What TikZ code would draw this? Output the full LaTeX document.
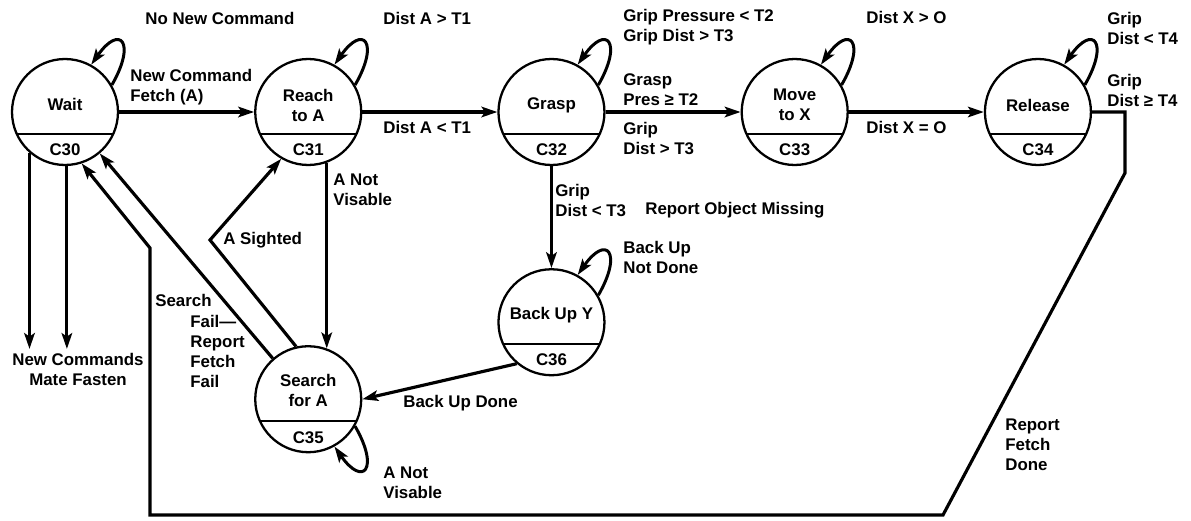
\documentclass[tikz,border=0pt]{standalone}
\usepackage{fontspec}
\setmainfont{Liberation Sans}
\usetikzlibrary{arrows.meta,calc,positioning}

\begin{document}
\begin{tikzpicture}[x=0.02cm, y=0.02cm,
  every node/.style={font=\bfseries\fontsize{9.6}{11.4}\selectfont, inner sep=0pt},
  state/.style={circle, draw=black, line width=1.3pt, minimum size=2.12cm,
    path picture={\draw[line width=1pt] ([yshift=-0.44cm]path picture bounding box.west) -- ([yshift=-0.44cm]path picture bounding box.east);}},
  lbl/.style={anchor=west, align=left},
  trans/.style={line width=1.8pt, -{Stealth[length=9pt, width=6pt, inset=2pt]}},
  selfloop/.style={line width=1.7pt, -{Stealth[length=9pt, width=6pt, inset=2pt]}}]
  \useasboundingbox (0,0) rectangle (1191,-521);

  \node[state] (Wait) at (65,-112) {};
  \node[state, right=2.7cm of Wait] (Reach) {};
  \node[state, right=2.7cm of Reach] (Grasp) {};
  \node[state, right=2.7cm of Grasp] (Move) {};
  \node[state, right=2.7cm of Move] (Release) {};
  \node[state, below=2.04cm of Grasp] (BackUp) {};
  \node[state, below=3.58cm of Reach] (Search) {};

  % state names and codes
  \node (WaitN) at ([yshift=0.16cm]Wait.center) {Wait};
  \node (WaitC) at ([yshift=-0.76cm]Wait.center) {C30};
  \node[align=center] (ReachN) at ([yshift=0.14cm]Reach.center) {Reach\\to A};
  \node (ReachC) at ([yshift=-0.76cm]Reach.center) {C31};
  \node (GraspN) at ([yshift=0.14cm]Grasp.center) {Grasp};
  \node (GraspC) at ([yshift=-0.76cm]Grasp.center) {C32};
  \node[align=center] (MoveN) at ([yshift=0.14cm]Move.center) {Move\\to X};
  \node (MoveC) at ([yshift=-0.76cm]Move.center) {C33};
  \node (ReleaseN) at ([yshift=0.14cm]Release.center) {Release};
  \node (ReleaseC) at ([yshift=-0.76cm]Release.center) {C34};
  \node (BackUpN) at ([yshift=0.14cm]BackUp.center) {Back Up Y};
  \node (BackUpC) at ([yshift=-0.74cm]BackUp.center) {C36};
  \node[align=center] (SearchN) at ([yshift=0.18cm]Search.center) {Search\\for A};
  \node (SearchC) at ([yshift=-0.76cm]Search.center) {C35};

  \path[trans]
  (Wait) edge (Reach)
  (Reach) edge (Grasp)
  (Grasp) edge (Move)
  (Move) edge (Release)
  (Grasp) edge (BackUp)
  (Reach.290) edge (Search.70)
  (BackUp.230) edge (Search.east)
  (Search.131) edge (Wait.310);

  \coordinate (Sighted) at (210,-240);
  \draw[trans] (Search.103) -- (Sighted) -- (Reach.240);

  \coordinate (RetA) at (1125,-173);
  \coordinate (RetB) at (943,-515);
  \coordinate (RetC) at (150,-248);
  \draw[trans] (Release.east) -| (RetA) -- (RetB) -| (RetC) -- (Wait.288);

  \node[align=center, inner sep=2pt] (NewCmds) at (78,-369) {New Commands\\Mate Fasten};
  \draw[trans] (Wait.229) -- (Wait.229 |- NewCmds.north);
  \draw[trans] (Wait.272) -- (Wait.272 |- NewCmds.north);

  \path[selfloop]
  (Wait.30) edge[out=60, in=55, looseness=4.4] (Wait.61)
  (Reach.30) edge[out=60, in=55, looseness=4.4] (Reach.61)
  (Grasp.30) edge[out=60, in=55, looseness=4.4] (Grasp.61)
  (Move.30) edge[out=60, in=55, looseness=4.4] (Move.61)
  (Release.30) edge[out=60, in=55, looseness=4.4] (Release.61)
  (BackUp.30) edge[out=60, in=55, looseness=4.4] (BackUp.61)
  (Search.330) edge[out=-60, in=-55, looseness=4.4] (Search.299);

  % transition labels
  \node[lbl] (LNoNew) at (145,-18) {No New Command};
  \node[lbl] (LFetch) at (130,-87) {New Command\\Fetch (A)};
  \node[lbl] (LFarA) at (383,-18) {Dist A > T1};
  \node[lbl] (LNearA) at (383,-127) {Dist A < T1};
  \node[lbl] (LGripHold) at (623,-27) {Grip Pressure < T2\\Grip Dist > T3};
  \node[lbl] (LGrasped) at (623,-90) {Grasp\\Pres ≥ T2};
  \node[lbl] (LGripFar) at (623,-138) {Grip\\Dist > T3};
  \node[lbl] (LFarX) at (866,-17) {Dist X > O};
  \node[lbl] (LAtX) at (866,-127) {Dist X = O};
  \node[lbl] (LHold) at (1107,-28) {Grip\\Dist < T4};
  \node[lbl] (LLet) at (1107,-90) {Grip\\Dist ≥ T4};
  \node[lbl] (LGripNear) at (555,-200) {Grip\\Dist < T3};
  \node[lbl] (LMissing) at (645,-210) {Report Object Missing};
  \node[lbl] (LBackMore) at (623,-257) {Back Up\\Not Done};
  \node[lbl] (LLost) at (333,-190) {A Not\\Visable};
  \node[lbl] (LSighted) at (223,-240) {A Sighted};
  \node[lbl] (LFail) at (155,-341) {Search\\\hspace*{0.7cm}Fail—\\\hspace*{0.7cm}Report\\\hspace*{0.7cm}Fetch\\\hspace*{0.7cm}Fail};
  \node[lbl] (LBackDone) at (403,-403) {Back Up Done};
  \node[lbl] (LStillLost) at (383,-483) {A Not\\Visable};
  \node[lbl] (LDone) at (1005,-445) {Report\\Fetch\\Done};
\end{tikzpicture}
\end{document}
